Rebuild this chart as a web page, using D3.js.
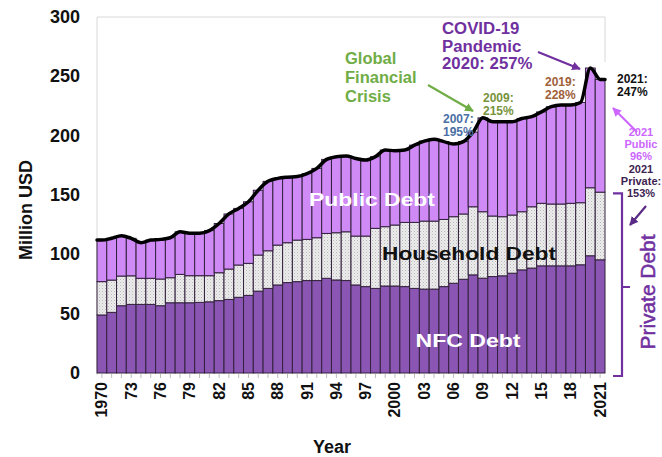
<!DOCTYPE html>
<html>
<head>
<meta charset="utf-8">
<script src="https://cdn.jsdelivr.net/npm/d3@7"></script>
<style>
  html, body { margin: 0; padding: 0; background: #ffffff; }
  svg { display: block; font-family: "Liberation Sans", Arial, sans-serif; }
</style>
</head>
<body>
<svg id="chart" width="662" height="457"></svg>
<script>
// ---------- data ----------
const years = d3.range(1970, 2022);
const nfcDebt = [48.9, 51.1, 56.7, 57.8, 57.8, 57.8, 56.7, 59.2, 59.2, 59.2,
  59.5, 60.0, 61.0, 62.0, 63.8, 65.4, 69.0, 71.3, 74.2, 76.2,
  77.0, 77.9, 77.9, 79.8, 78.4, 77.9, 74.2, 72.8, 71.3, 73.3,
  73.3, 72.8, 71.3, 70.7, 70.7, 72.8, 75.6, 79.0, 82.7, 79.9,
  81.3, 81.9, 84.1, 86.9, 88.4, 90.3, 90.3, 90.3, 90.3, 91.2,
  98.8, 95.4];
const householdDebt = [28.1, 27.2, 25.0, 24.1, 22.0, 22.0, 22.5, 21.1, 23.9, 22.8,
  22.5, 22.0, 23.5, 25.6, 27.2, 27.0, 30.4, 31.7, 33.6, 33.6,
  35.0, 34.7, 36.1, 37.8, 39.8, 41.1, 41.2, 42.6, 50.6, 50.0,
  51.4, 54.1, 55.6, 57.3, 57.3, 56.6, 56.1, 55.0, 57.4, 56.0,
  51.0, 49.8, 49.0, 49.0, 51.7, 52.7, 52.1, 52.1, 52.7, 52.3,
  57.3, 57.0];
const publicDebt = [35.0, 35.2, 34.0, 31.6, 30.0, 32.2, 33.4, 33.7, 35.9, 35.7,
  35.7, 38.0, 41.5, 46.4, 47.7, 51.9, 54.6, 58.5, 56.2, 55.2,
  53.5, 55.4, 58.4, 62.4, 64.1, 63.8, 65.4, 64.0, 60.4, 64.6,
  62.6, 61.0, 65.1, 67.4, 69.0, 65.6, 61.3, 61.0, 62.9, 79.1,
  79.4, 80.0, 78.6, 78.6, 75.9, 77.0, 82.0, 83.4, 82.8, 84.5,
  100.9, 95.0];
const seriesKeys = ["nfc", "household", "public"];
const yTicks = [0, 50, 100, 150, 200, 250, 300];
const xTickYears = [1970, 1973, 1976, 1979, 1982, 1985, 1988, 1991, 1994, 1997, 2000,
  2003, 2006, 2009, 2012, 2015, 2018, 2021];
const xTickLabels = ["1970", "73", "76", "79", "82", "85", "88", "91", "94", "97", "2000",
  "03", "06", "09", "12", "15", "18", "2021"];

// ---------- layout ----------
const svg = d3.select("#chart");
const pLeft = 97, pRight = 605, pTop = 17, pBottom = 373;

const rows = years.map((yr, i) => ({
  year: yr, nfc: nfcDebt[i], household: householdDebt[i], public: publicDebt[i]
}));
const stacked = d3.stack().keys(seriesKeys)(rows);

const x = d3.scaleBand().domain(years).range([pLeft, pRight]).padding(0);
const y = d3.scaleLinear().domain([0, 300]).range([pBottom, pTop]);

// pattern for household
const defs = svg.append("defs");
const pat = defs.append("pattern").attr("id", "dots")
  .attr("width", 3).attr("height", 3).attr("patternUnits", "userSpaceOnUse");
pat.append("rect").attr("width", 3).attr("height", 3).attr("fill", "#ececec");
pat.append("rect").attr("x", 0).attr("y", 0).attr("width", 1).attr("height", 1).attr("fill", "#b8b8b8");
pat.append("rect").attr("x", 1.5).attr("y", 1.5).attr("width", 1).attr("height", 1).attr("fill", "#cfcfcf");

const fills = { nfc: "#8a55b3", household: "url(#dots)", public: "#d08af6" };

// frame
svg.append("path")
  .attr("d", `M${pLeft},${pBottom + 2}V${pTop}H${pRight}V${y(262)}`)
  .attr("fill", "none").attr("stroke", "#d8d8d8").attr("stroke-width", 1);

// bars
stacked.forEach(s => {
  svg.append("g").selectAll("rect").data(s).join("rect")
    .attr("x", d => x(d.data.year))
    .attr("width", x.bandwidth())
    .attr("y", d => y(d[1]))
    .attr("height", d => y(d[0]) - y(d[1]))
    .attr("fill", fills[s.key])
    .attr("stroke", "#33213d")
    .attr("stroke-width", 1);
});

// total line along bar tops
const totals = rows.map(r => ({ year: r.year, v: r.nfc + r.household + r.public }));
const linePts = [[x(years[0]), y(totals[0].v)]]
  .concat(totals.map(t => [x(t.year) + x.bandwidth() / 2, y(t.v)]))
  .concat([[x(years[years.length - 1]) + x.bandwidth(), y(totals[totals.length - 1].v)]]);
svg.append("path")
  .attr("d", d3.line().curve(d3.curveMonotoneX)(linePts))
  .attr("fill", "none").attr("stroke", "#000").attr("stroke-width", 3.5)
  .attr("stroke-linejoin", "round").attr("stroke-linecap", "round");

// x ticks
svg.append("g").selectAll("line").data(years).join("line")
  .attr("x1", d => x(d) + x.bandwidth() / 2).attr("x2", d => x(d) + x.bandwidth() / 2)
  .attr("y1", pBottom + 1).attr("y2", pBottom + 5)
  .attr("stroke", "#bdbdbd").attr("stroke-width", 1);

svg.append("g").selectAll("text").data(xTickYears).join("text")
  .attr("transform", d => `translate(${x(d) + x.bandwidth() / 2 + 5.5},${pBottom + 9}) rotate(-90)`)
  .attr("text-anchor", "end")
  .attr("font-size", 16).attr("font-weight", "bold").attr("fill", "#111")
  .text((d, i) => xTickLabels[i]);

// y ticks
svg.append("g").selectAll("text").data(yTicks).join("text")
  .attr("x", 80).attr("y", d => y(d) + 6)
  .attr("text-anchor", "end")
  .attr("font-size", 18).attr("font-weight", "bold").attr("fill", "#111")
  .text(d => d);

// axis titles
svg.append("text").attr("x", 332).attr("y", 453).attr("text-anchor", "middle")
  .attr("font-size", 18).attr("font-weight", "bold").attr("fill", "#111").text("Year");
svg.append("text").attr("transform", "translate(32,210) rotate(-90)").attr("text-anchor", "middle")
  .attr("font-size", 18).attr("font-weight", "bold").attr("fill", "#111").text("Million USD");

// series labels (reference text is horizontally stretched)
function seriesLabel(txt, cx, by, len, color) {
  svg.append("text").attr("x", cx - len / 2).attr("y", by)
    .attr("font-size", 19).attr("font-weight", "bold").attr("fill", color)
    .attr("textLength", len).attr("lengthAdjust", "spacingAndGlyphs").text(txt);
}
seriesLabel("Public Debt", 372, 206, 126, "#ffffff");
seriesLabel("Household Debt", 469, 260, 174, "#111");
seriesLabel("NFC Debt", 468, 347, 105, "#ffffff");

// arrowheads
function marker(id, color) {
  defs.append("marker").attr("id", id).attr("viewBox", "0 0 10 10")
    .attr("refX", 9).attr("refY", 5).attr("markerWidth", 4).attr("markerHeight", 4)
    .attr("orient", "auto")
    .append("path").attr("d", "M0,0L10,5L0,10z").attr("fill", color);
}
marker("mGreen", "#70ad47");
marker("mPurple", "#7030a0");
marker("mPink", "#cc66ff");
marker("mDark", "#5b2a86");

function arrow(x1, y1, x2, y2, color, m) {
  svg.append("line").attr("x1", x1).attr("y1", y1).attr("x2", x2).attr("y2", y2)
    .attr("stroke", color).attr("stroke-width", 2.2).attr("marker-end", `url(#${m})`);
}
function block(lines, x0, y0, lh, size, color, anchor) {
  const t = svg.append("text").attr("font-size", size).attr("font-weight", "bold")
    .attr("fill", color).attr("text-anchor", anchor || "start");
  lines.forEach((l, i) => t.append("tspan").attr("x", x0).attr("y", y0 + i * lh).text(l));
}

block(["Global", "Financial", "Crisis"], 345, 64, 19, 16.5, "#70ad47");
arrow(428, 85, 473, 111, "#70ad47", "mGreen");
block(["2009:", "215%"], 483, 102, 12.5, 12, "#77933c");
block(["2007:", "195%"], 443, 123, 12.5, 12, "#4a6fa5");
block(["2019:", "228%"], 545, 86, 13, 12, "#a0603a");
block(["COVID-19", "Pandemic", "2020: 257%"], 442, 34, 17.5, 16.8, "#7030a0");
arrow(538, 52, 580, 69, "#7030a0", "mPurple");
block(["2021:", "247%"], 617, 83, 12.5, 12, "#111");
arrow(637, 132, 613, 108, "#cc66ff", "mPink");
block(["2021", "Public", "96%"], 641, 136, 12, 11, "#cc66ff", "middle");
block(["2021", "Private:", "153%"], 641, 173, 12, 11, "#3d2350", "middle");
arrow(646, 206, 630, 225, "#5b2a86", "mDark");

// bracket for private debt
const bTop = y(153) + 2, bBot = pBottom + 3, bMid = 287;
svg.append("path")
  .attr("d", `M613,${bTop}H622V${bMid}H630M622,${bMid}V${bBot}H613`)
  .attr("fill", "none").attr("stroke", "#7030a0").attr("stroke-width", 2.2);
svg.append("text").attr("transform", `translate(655,292) rotate(-90)`)
  .attr("text-anchor", "middle").attr("font-size", 20).attr("fill", "#7030a0")
  .attr("stroke", "#7030a0").attr("stroke-width", 0.5)
  .attr("textLength", 115).attr("lengthAdjust", "spacingAndGlyphs")
  .text("Private Debt");
</script>
</body>
</html>
